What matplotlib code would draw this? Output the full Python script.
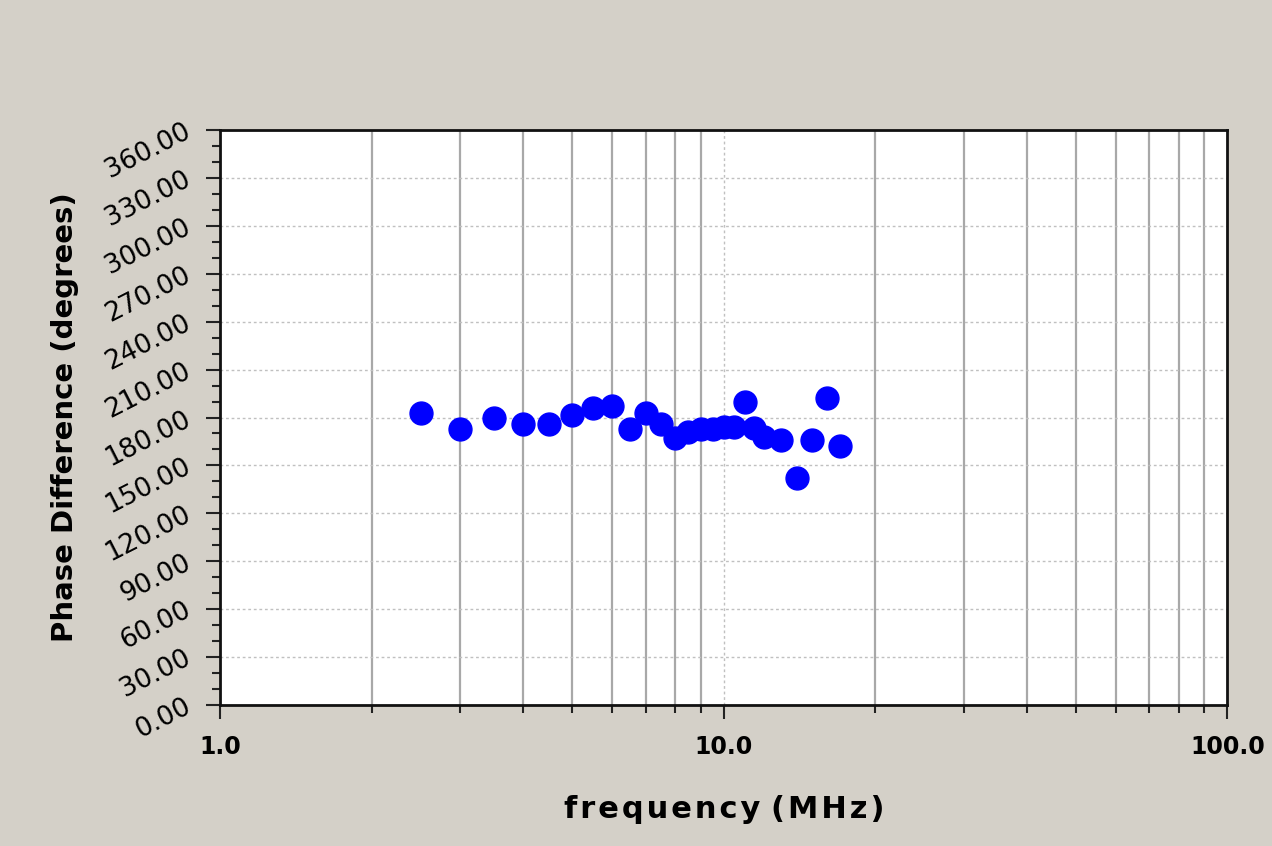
import matplotlib
matplotlib.use('Agg')
import matplotlib.pyplot as plt
from matplotlib.ticker import FixedLocator, MultipleLocator, FuncFormatter

plt.rcParams['font.family'] = ['DejaVu Sans']

# frequency (MHz) and measured phase difference (degrees)
freq = [2.5, 3.0, 3.5, 4.0, 4.5, 5.0, 5.5, 6.0, 6.5, 7.0, 7.5, 8.0, 8.5,
        9.0, 9.5, 10.0, 10.5, 11.0, 11.5, 12.0, 13.0, 14.0, 15.0, 16.0, 17.0]
phase = [183, 173, 180, 176, 176, 181.5, 186, 187, 173, 183, 176, 167, 171,
         173, 172.5, 174, 174, 190, 173.5, 168, 166, 142, 166, 192.5, 162]

x_major = [1, 10, 100]
x_minor = [2, 3, 4, 5, 6, 7, 8, 9, 20, 30, 40, 50, 60, 70, 80, 90]

bg = '#d4d0c8'
fig = plt.figure(figsize=(12.72, 8.46), dpi=100, facecolor=bg)
ax = fig.add_axes([0.173, 0.167, 0.792, 0.679])
ax.set_facecolor('white')

ax.set_xscale('log')
ax.set_xlim(1, 100)
ax.set_ylim(0, 360)

# grid: solid grey for minor decades, dotted for the majors
for v in x_minor:
    ax.axvline(v, color='#a8a8a8', lw=1.6, zorder=1)
ax.axvline(10, color='#c0c0c0', lw=1.0, ls=(0, (2, 2)), zorder=1)
for v in range(30, 360, 30):
    ax.axhline(v, color='#c0c0c0', lw=1.0, ls=(0, (2, 2)), zorder=1)

ax.plot(freq, phase, 'o', color='#0000ff', markersize=16.5, zorder=3)

ax.xaxis.set_major_locator(FixedLocator(x_major))
ax.xaxis.set_minor_locator(FixedLocator(x_minor))
ax.xaxis.set_major_formatter(FuncFormatter(lambda v, p: '%.1f' % v))
ax.xaxis.set_minor_formatter(FuncFormatter(lambda v, p: ''))
ax.yaxis.set_major_locator(MultipleLocator(30))
ax.yaxis.set_minor_locator(MultipleLocator(10))
ax.yaxis.set_major_formatter(FuncFormatter(lambda v, p: '%.2f' % v))

ax.tick_params(axis='both', which='major', direction='out', length=10, width=1.5, color='#222222')
ax.tick_params(axis='both', which='minor', direction='out', length=6, width=1.5, color='#222222')
ax.tick_params(axis='x', labelsize=17, pad=12)
ax.tick_params(axis='y', labelsize=19, pad=12)

for lab in ax.get_xticklabels():
    lab.set_fontweight('bold')
    lab.set_ha('center')
for lab in ax.get_yticklabels():
    lab.set_rotation(27)
    lab.set_rotation_mode('anchor')
    lab.set_ha('right')
    lab.set_va('center')

for s in ax.spines.values():
    s.set_color('#111111')
    s.set_linewidth(2)

hs = '\u200a'
ax.set_xlabel(hs.join('frequency') + ' ' + hs.join('(MHz)'),
              fontsize=22, fontweight='bold', labelpad=26)
ax.set_ylabel('Phase Difference (degrees)', fontsize=21, fontweight='bold', labelpad=16)

fig.savefig('out.png', dpi=100, facecolor=bg)
